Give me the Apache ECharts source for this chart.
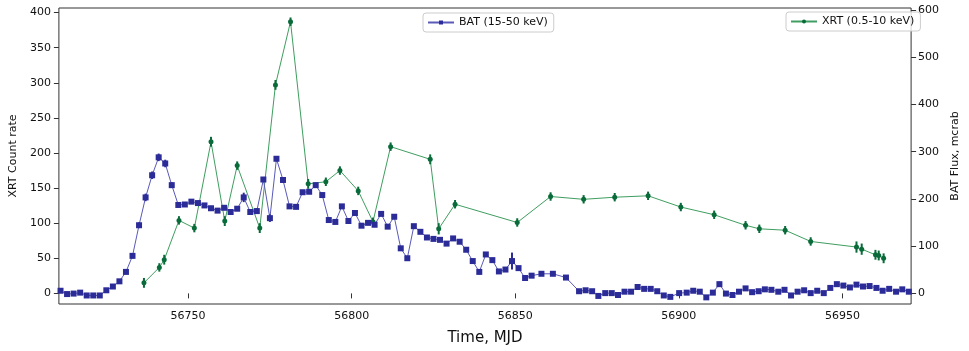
<!DOCTYPE html>
<html>
<head>
<meta charset="utf-8">
<script src="https://cdn.jsdelivr.net/npm/echarts@6/dist/echarts.min.js"></script>
<style>
html,body{margin:0;padding:0;background:#fff;}
#c{width:969px;height:351px;}
</style>
</head>
<body>
<div id="c"></div>
<script>
// ---- data ----
const xTicks = [56750, 56800, 56850, 56900, 56950];
const leftTicks = [0, 50, 100, 150, 200, 250, 300, 350, 400];
const rightTicks = [0, 100, 200, 300, 400, 500, 600];

// BAT (15-50 keV), mcrab (right axis)
const batX = [56711,56713,56715,56717,56719,56721,56723,56725,56727,56729,
  56731,56733,56735,56737,56739,56741,56743,56745,56747,56749,
  56751,56753,56755,56757,56759,56761,56763,56765,56767,56769,
  56771,56773,56775,56777,56779,56781,56783,56785,56787,56789,
  56791,56793,56795,56797,56799,56801,56803,56805,56807,56809,
  56811,56813,56815,56817,56819,56821,56823,56825,56827,56829,
  56831,56833,56835,56837,56839,56841,56843,56845,56847,56849,
  56851,56853,56855,
  56858,56861.5,56865.5,56869.5,56871.5,56873.5,56875.4,56877.5,56879.5,56881.4,
  56883.4,56885.4,56887.4,56889.4,56891.4,56893.4,56895.4,56897.4,56900.1,56902.4,
  56904.4,56906.4,56908.4,56910.4,56912.4,56914.4,56916.4,56918.4,56920.4,56922.4,
  56924.4,56926.3,56928.3,56930.4,56932.3,56934.3,56936.3,56938.3,56940.3,56942.3,
  56944.3,56946.3,56948.3,56950.3,56952.3,56954.3,56956.3,56958.3,56960.4,56962.3,
  56964.3,56966.4,56968.3,56970.3];
const batY = [5,-2,-1,1,-5,-5,-5,6,14,25,
  45,79,144,203,250,288,275,229,187,188,
  194,191,186,180,175,181,172,179,203,172,
  174,241,159,285,240,184,183,214,215,229,
  208,155,151,184,153,170,143,149,145,168,
  141,162,95,74,142,130,118,115,113,105,
  116,109,92,68,45,82,70,46,50,68,
  53,32,37,
  41,41,33,4,6,4,-6,0,0,-4,
  3,3,13,9,9,4,-5,-8,0,1,
  5,3,-9,1,19,-1,-4,3,10,2,
  4,8,7,3,7,-5,3,6,0,5,
  0,11,19,16,12,18,14,15,11,5,
  9,3,8,3];
const batErr = [3,3,3,3,3,3,3,3,3,4,
  4,5,6,8,8,8,8,6,5,5,
  5,5,5,5,4,4,4,4,10,4,
  6,4,8,5,6,5,5,4,4,5,
  5,5,5,4,4,5,4,4,4,4,
  4,4,5,4,4,4,4,4,4,4,
  4,4,4,4,5,5,4,4,4,18,
  4,4,4,
  4,4,4,4,4,4,4,4,4,4,
  4,4,5,4,4,4,4,4,4,4,
  4,4,4,4,5,4,4,4,4,4,
  4,4,4,4,4,4,4,4,4,4,
  4,4,5,5,4,4,4,4,4,4,
  4,4,4,4];

// XRT (0.5-10 keV), count rate (left axis)
const xrtX = [56736.5,56741.2,56742.7,56747.2,56751.9,56757.0,56761.2,56765.0,56771.9,56776.7,
  56781.3,56786.7,56792.1,56796.4,56802.0,56806.5,56811.9,56824.0,56826.6,56831.6,
  56850.6,56860.8,56870.9,56880.4,56890.6,56900.6,56910.8,56920.4,56924.6,56932.5,
  56940.3,56954.3,56955.9,56960.1,56961.1,56962.6];
const xrtY = [15,37,48,104,93,216,103,182,93,297,
  387,156,159,175,146,102,209,191,92,127,
  101,138,134,137,139,123,112,97,92,90,
  74,66,63,55,54,50];
const xrtErr = [7,6,7,6,6,7,7,6,7,7,
  6,7,6,6,6,6,6,7,8,6,
  6,6,6,6,6,6,6,6,6,6,
  6,8,8,7,7,7];

// ---- build ----
const batData = batX.map((x, i) => [x, batY[i]]);
const batErrData = batX.map((x, i) => [x, batY[i] - batErr[i], batY[i] + batErr[i]]);
const xrtData = xrtX.map((x, i) => [x, xrtY[i]]);
const xrtErrData = xrtX.map((x, i) => [x, xrtY[i] - xrtErr[i], xrtY[i] + xrtErr[i]]);

function errRender(color, w) {
  return function (params, api) {
    const x = api.value(0);
    const p1 = api.coord([x, api.value(1)]);
    const p2 = api.coord([x, api.value(2)]);
    return {
      type: 'line',
      shape: {x1: p1[0], y1: p1[1], x2: p2[0], y2: p2[1]},
      style: {stroke: color, lineWidth: w}
    };
  };
}

const FONT = 'DejaVu Sans';
const TXT = '#111';
const BAT_LINE = '#5a5ab8';
const BAT_MARK = '#2c2c98';
const XRT_LINE = '#3f9e60';
const XRT_MARK = '#0a6b3a';
const plain = v => String(v);

const chart = echarts.init(document.getElementById('c'), null, {renderer: 'canvas'});
chart.setOption({
  animation: false,
  backgroundColor: '#fff',
  textStyle: {fontFamily: FONT},
  grid: {left: 52, right: 47, top: 8, bottom: 44, show: true, borderColor: '#333', borderWidth: 1, backgroundColor: 'transparent'},
  legend: [
    {
      data: ['BAT (15-50 keV)'], left: 423, top: 13, padding: [4, 6, 4, 4],
      itemWidth: 26, itemHeight: 5, itemGap: 6,
      borderColor: '#cccccc', borderWidth: 1, borderRadius: 3, backgroundColor: 'rgba(255,255,255,0.8)',
      textStyle: {fontFamily: FONT, fontSize: 11, color: TXT}
    },
    {
      data: ['XRT (0.5-10 keV)'], left: 786, top: 12, padding: [4, 6, 4, 4],
      itemWidth: 26, itemHeight: 5, itemGap: 6,
      borderColor: '#cccccc', borderWidth: 1, borderRadius: 3, backgroundColor: 'rgba(255,255,255,0.8)',
      textStyle: {fontFamily: FONT, fontSize: 11, color: TXT}
    }
  ],
  xAxis: {
    type: 'value', min: 56710.5, max: 56971,
    name: 'Time, MJD', nameLocation: 'middle', nameGap: 27,
    nameTextStyle: {fontFamily: FONT, fontSize: 15, color: TXT},
    axisLine: {show: false},
    axisTick: {show: true, length: 5, lineStyle: {color: '#333'}, customValues: xTicks},
    axisLabel: {fontFamily: FONT, fontSize: 11, color: TXT, margin: 7, customValues: xTicks, formatter: plain},
    splitLine: {show: false}
  },
  yAxis: [
    {
      type: 'value', position: 'left', min: -15.1, max: 406.5,
      name: 'XRT Count rate', nameLocation: 'middle', nameGap: 33, nameRotate: 90,
      nameTextStyle: {fontFamily: FONT, fontSize: 11, color: TXT},
      axisLine: {show: false},
      axisTick: {show: true, length: 5, lineStyle: {color: '#333'}, customValues: leftTicks},
      axisLabel: {fontFamily: FONT, fontSize: 11, color: TXT, margin: 8, customValues: leftTicks, formatter: plain},
      splitLine: {show: false}
    },
    {
      type: 'value', position: 'right', min: -23.1, max: 604.8,
      name: 'BAT Flux, mcrab', nameLocation: 'middle', nameGap: 33, nameRotate: 90,
      nameTextStyle: {fontFamily: FONT, fontSize: 11, color: TXT},
      axisLine: {show: false},
      axisTick: {show: true, length: 5, lineStyle: {color: '#333'}, customValues: rightTicks},
      axisLabel: {fontFamily: FONT, fontSize: 11, color: TXT, margin: 7, customValues: rightTicks, formatter: plain},
      splitLine: {show: false}
    }
  ],
  series: [
    {
      name: 'XRT (0.5-10 keV)', type: 'line', yAxisIndex: 0, data: xrtData,
      symbol: 'circle', symbolSize: 5, showSymbol: true,
      lineStyle: {color: XRT_LINE, width: 1},
      itemStyle: {color: XRT_MARK, borderWidth: 0},
      z: 2
    },
    {
      type: 'custom', yAxisIndex: 0, data: xrtErrData, encode: {x: 0, y: [1, 2]},
      renderItem: errRender(XRT_MARK, 2), z: 3, silent: true
    },
    {
      name: 'BAT (15-50 keV)', type: 'line', yAxisIndex: 1, data: batData,
      symbol: 'rect', symbolSize: 6, showSymbol: true,
      lineStyle: {color: BAT_LINE, width: 1},
      itemStyle: {color: BAT_MARK, borderWidth: 0},
      z: 4
    },
    {
      type: 'custom', yAxisIndex: 1, data: batErrData, encode: {x: 0, y: [1, 2]},
      renderItem: errRender(BAT_MARK, 2), z: 5, silent: true
    }
  ]
});
</script>
</body>
</html>
